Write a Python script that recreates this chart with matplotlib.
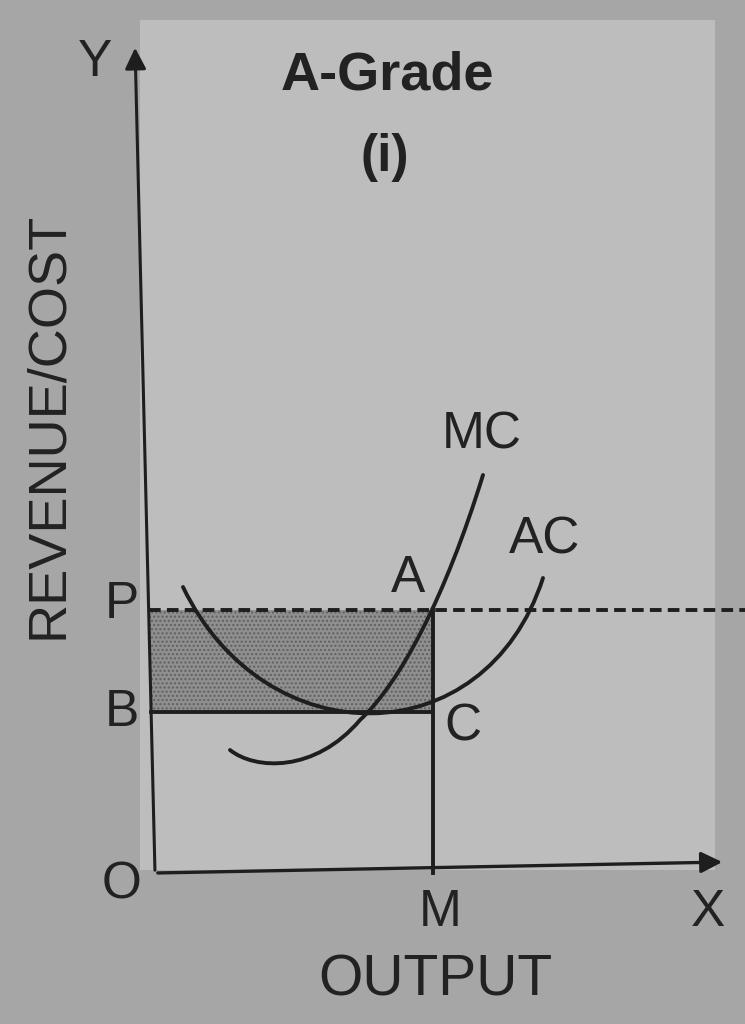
import numpy as np
import matplotlib
matplotlib.use('Agg')
import matplotlib.pyplot as plt
from matplotlib.patches import Rectangle, PathPatch
from matplotlib.path import Path

# values (units: output to the right of O, cost above O)
# curves given as Bezier control points (start, ctrl, ctrl, end, ...)
mc_ctrl = [(75, 123), (100, 103), (160, 100), (205, 153),
           (245, 190), (290, 275), (328, 398)]
ac_ctrl = [(28, 286), (110, 116), (330, 116), (388, 295)]
price_P = 263      # P = AR at output M
cost_B = 161       # B = AC at output M
output_M = 278
y_axis_top = (-20, 828)   # axis leans a little in the photo
x_axis_end = (570, 11)

plt.rcParams['font.family'] = ['Liberation Sans', 'DejaVu Sans']
ink = '#1e1e1e'

fig = plt.figure(figsize=(7.45, 10.24), dpi=100)
fig.patch.set_facecolor('#a6a6a6')
ax = fig.add_axes([0, 0, 1, 1])
ax.set_xlim(-155, 590)
ax.set_ylim(-151, 873)
ax.axis('off')
# lighter page area behind the diagram
ax.add_patch(Rectangle((140 / 745, 1 - 870 / 1024), 575 / 745, 850 / 1024,
                       transform=fig.transFigure, facecolor='#bdbdbd',
                       edgecolor='none', zorder=0))


def axis_x(y):
    # x position of the leaning Y axis at height y
    return np.interp(y, [0, y_axis_top[1]], [0, y_axis_top[0]])


def bezier(points):
    codes = [Path.MOVETO] + [Path.CURVE4] * (len(points) - 1)
    return PathPatch(Path(points, codes), facecolor='none', edgecolor=ink,
                     lw=2.8, capstyle='round', zorder=4)


# shaded profit area PACB
ax.fill([axis_x(cost_B), output_M, output_M, axis_x(price_P)],
        [cost_B, cost_B, price_P, price_P],
        facecolor='#8f8f8f', edgecolor='#606060', hatch='....', lw=0, zorder=1)

# axes with arrows
ax.annotate('', xy=y_axis_top, xytext=(0, 0),
            arrowprops=dict(arrowstyle='-|>', color=ink, lw=2.2, mutation_scale=32))
ax.annotate('', xy=x_axis_end, xytext=(0, 0),
            arrowprops=dict(arrowstyle='-|>', color=ink, lw=2.4, mutation_scale=32))

# P line (dashed), B line, and MA vertical
ax.plot([axis_x(price_P), 590], [price_P, price_P], color=ink, lw=2.8,
        ls=(0, (3, 1.6)), clip_on=False, zorder=3)
ax.plot([axis_x(cost_B), output_M], [cost_B, cost_B], color=ink, lw=2.8, zorder=3)
ax.plot([output_M, output_M], [0, price_P], color=ink, lw=2.8, zorder=3)

# cost curves
ax.add_patch(bezier(mc_ctrl))
ax.add_patch(bezier(ac_ctrl))

# labels
txt = dict(color='#222222', fontsize=37, ha='center', va='center')
ax.text(232, 798, 'A-Grade', fontweight='bold', fontsize=39,
        color='#222222', ha='center', va='center')
ax.text(230, 715, '(i)', fontweight='bold', **txt)
ax.text(-60, 811, 'Y', **txt)
ax.text(-107, 448, 'REVENUE/COST', rotation=90, fontsize=39,
        color='#222222', ha='center', va='center')
ax.text(327, 438, 'MC', **txt)
ax.text(390, 333, 'AC', **txt)
ax.text(253, 295, 'A', **txt)
ax.text(-33, 268, 'P', **txt)
ax.text(-33, 161, 'B', **txt)
ax.text(308, 146, 'C', **txt)
ax.text(-33, -12, 'O', **txt)
ax.text(285, -39, 'M', **txt)
ax.text(553, -39, 'X', **txt)
ax.text(280, -107, 'OUTPUT', fontsize=41, color='#222222', ha='center', va='center')

plt.savefig('out.png', dpi=100, facecolor=fig.get_facecolor())
